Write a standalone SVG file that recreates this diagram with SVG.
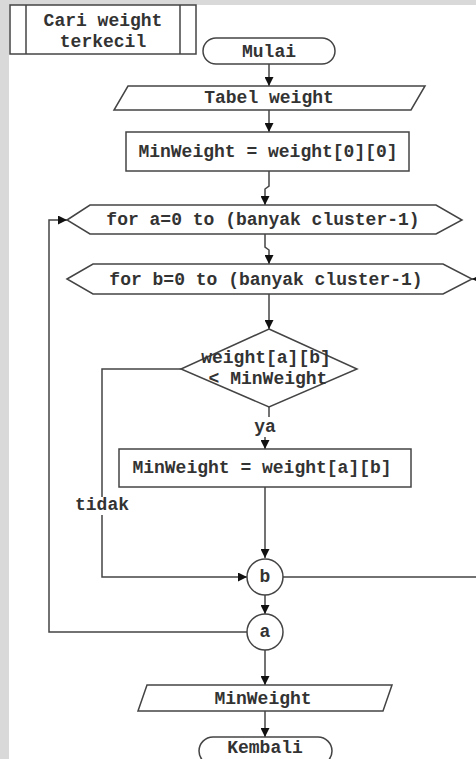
<svg xmlns="http://www.w3.org/2000/svg" width="476" height="759" viewBox="0 0 476 759">
<defs>
<style>
.s{fill:#fff;stroke:#444;stroke-width:1.5}
.c{fill:none;stroke:#444;stroke-width:1.5}
.t{font-family:"Liberation Mono","Courier New",monospace;font-weight:bold;font-size:18px;fill:#333;text-anchor:middle}
</style>
<marker id="ah" viewBox="0 0 10 10" refX="10" refY="5" markerWidth="9" markerHeight="9" markerUnits="userSpaceOnUse" orient="auto">
<path d="M0,0 L10,5 L0,10 z" fill="#111"/>
</marker>
</defs>
<rect x="0" y="0" width="476" height="759" fill="#fff"/>
<rect x="0" y="0" width="476" height="5" fill="#d9d9d9"/>
<rect x="0" y="0" width="9" height="759" fill="#d9d9d9"/>

<g id="connectors">
<path class="c" d="M269,64 V86" marker-end="url(#ah)"/>
<path class="c" d="M269,110 V132" marker-end="url(#ah)"/>
<path class="c" d="M269,171 V186 L265,189 V205" marker-end="url(#ah)"/>
<path class="c" d="M265,234 V247 L269,250 V264" marker-end="url(#ah)"/>
<path class="c" d="M269,294 V329" marker-end="url(#ah)"/>
<path class="c" d="M269,407 V417"/>
<path class="c" d="M265,437 V449" marker-end="url(#ah)"/>
<path class="c" d="M181,369 H102 V497"/>
<path class="c" d="M102,515 V577 H247" marker-end="url(#ah)"/>
<path class="c" d="M265,487 V558" marker-end="url(#ah)"/>
<path class="c" d="M283,577 H490 V279 H472" marker-end="url(#ah)"/>
<path class="c" d="M265,595 V614" marker-end="url(#ah)"/>
<path class="c" d="M247,632 H49 V220 H67" marker-end="url(#ah)"/>
<path class="c" d="M265,650 V685" marker-end="url(#ah)"/>
<path class="c" d="M265,711 V737" marker-end="url(#ah)"/>
<text class="t" x="265" y="432">ya</text>
<text class="t" x="102" y="510">tidak</text>
</g>

<g id="title">
<rect class="s" x="10" y="5" width="186" height="49"/>
<line class="c" x1="26" y1="5" x2="26" y2="54"/>
<line class="c" x1="180" y1="5" x2="180" y2="54"/>
<text class="t" x="103" y="26">Cari weight</text>
<text class="t" x="103" y="47">terkecil</text>
</g>

<g id="mulai">
<rect class="s" x="203" y="38" width="132" height="26" rx="13"/>
<text class="t" x="269" y="57">Mulai</text>
</g>

<g id="tabel">
<polygon class="s" points="128,86 425,86 411,110 114,110"/>
<text class="t" x="269" y="103">Tabel weight</text>
</g>

<g id="init">
<rect class="s" x="126" y="132" width="283" height="39"/>
<text class="t" x="268" y="157">MinWeight = weight[0][0]</text>
</g>

<g id="fora">
<polygon class="s" points="67,220 90,205 436,205 462,220 436,234 90,234"/>
<text class="t" x="263" y="225">for a=0 to (banyak cluster-1)</text>
</g>

<g id="forb">
<polygon class="s" points="67,279 93,264 443,264 472,279 443,294 93,294"/>
<text class="t" x="266" y="285">for b=0 to (banyak cluster-1)</text>
</g>

<g id="cond">
<polygon class="s" points="269,329 357,369 269,407 181,369"/>
<text class="t" x="266" y="363">weight[a][b]</text>
<text class="t" x="268" y="384">&lt; MinWeight</text>
</g>

<g id="assign">
<rect class="s" x="119" y="449" width="292" height="38"/>
<text class="t" x="262" y="473">MinWeight = weight[a][b]</text>
</g>

<g id="b">
<circle class="s" cx="265" cy="577" r="18"/>
<text class="t" x="265" y="582">b</text>
</g>

<g id="a">
<circle class="s" cx="265" cy="632" r="18"/>
<text class="t" x="265" y="637">a</text>
</g>

<g id="output">
<polygon class="s" points="147,685 392,685 383,711 138,711"/>
<text class="t" x="263" y="704">MinWeight</text>
</g>

<g id="kembali">
<rect class="s" x="199" y="737" width="133" height="28" rx="14"/>
<text class="t" x="265" y="753">Kembali</text>
</g>
</svg>
